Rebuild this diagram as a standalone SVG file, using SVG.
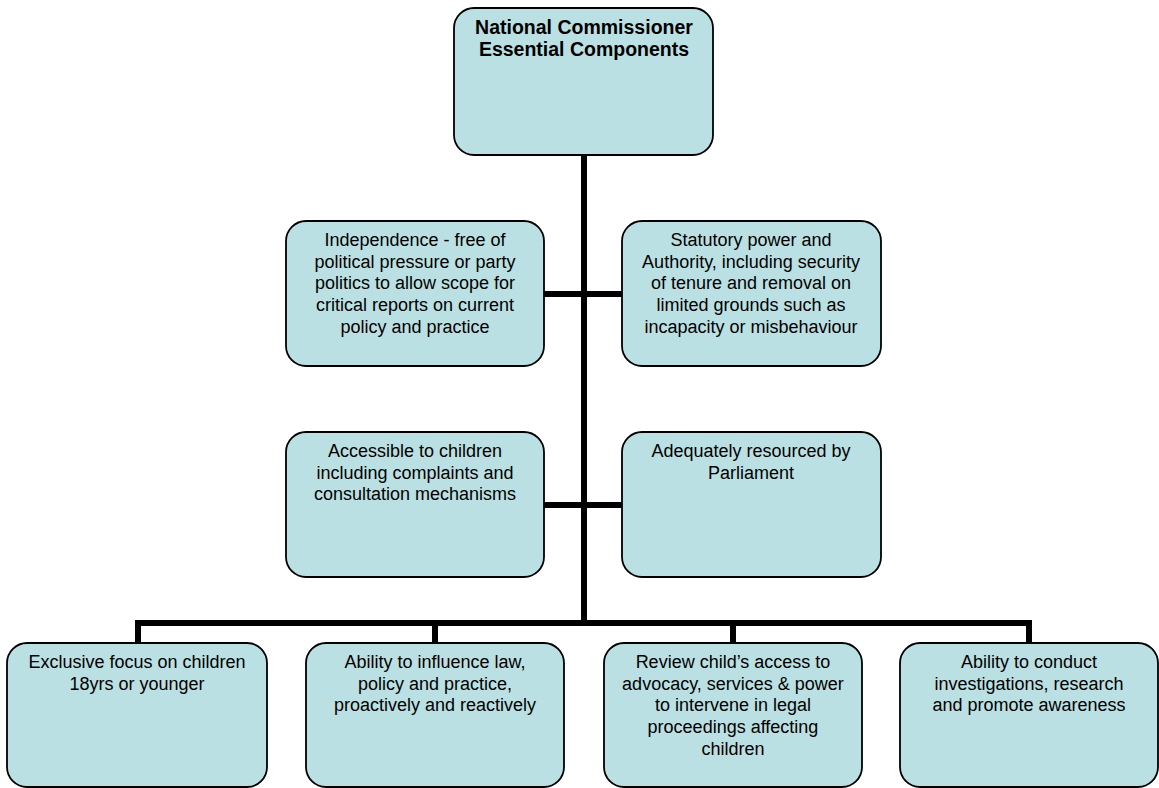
<svg xmlns="http://www.w3.org/2000/svg" width="1159" height="788" viewBox="0 0 1159 788">
<style>
.box{fill:#BBE0E3;stroke:#000;stroke-width:1.8}
.t{font-family:"Liberation Sans",Arial,sans-serif;font-size:18px;fill:#000;text-anchor:middle}
.b{font-weight:bold;font-size:19.5px}
.c{fill:none;stroke:#000;stroke-width:6;stroke-linejoin:miter}
</style>
<rect width="1159" height="788" fill="#fff"/>
<g id="connectors">
<path class="c" d="M584,155 V626"/>
<path class="c" d="M544,294 H622"/>
<path class="c" d="M544,505 H622"/>
<path class="c" d="M138,643 V623 H1029 V643"/>
<path class="c" d="M435,623 V643"/>
<path class="c" d="M733,623 V643"/>
</g>
<g id="n-top">
<rect class="box" x="454" y="8" width="259" height="147" rx="20"/>
<text class="t b" x="584" y="34">National Commissioner</text>
<text class="t b" x="584" y="56">Essential Components</text>
</g>
<g id="n-independence">
<rect class="box" x="286" y="221" width="258" height="145" rx="20"/>
<text class="t" x="415" y="246">Independence - free of</text>
<text class="t" x="415" y="268">political pressure or party</text>
<text class="t" x="415" y="289">politics to allow scope for</text>
<text class="t" x="415" y="311">critical reports on current</text>
<text class="t" x="415" y="333">policy and practice</text>
</g>
<g id="n-statutory">
<rect class="box" x="622" y="221" width="259" height="145" rx="20"/>
<text class="t" x="751" y="246">Statutory power and</text>
<text class="t" x="751" y="268">Authority, including security</text>
<text class="t" x="751" y="289">of tenure and removal on</text>
<text class="t" x="751" y="311">limited grounds such as</text>
<text class="t" x="751" y="333">incapacity or misbehaviour</text>
</g>
<g id="n-accessible">
<rect class="box" x="286" y="432" width="258" height="145" rx="20"/>
<text class="t" x="415" y="457">Accessible to children</text>
<text class="t" x="415" y="479">including complaints and</text>
<text class="t" x="415" y="500">consultation mechanisms</text>
</g>
<g id="n-resourced">
<rect class="box" x="622" y="432" width="259" height="145" rx="20"/>
<text class="t" x="751" y="457">Adequately resourced by</text>
<text class="t" x="751" y="479">Parliament</text>
</g>
<g id="n-exclusive">
<rect class="box" x="7" y="643" width="260" height="144" rx="20"/>
<text class="t" x="137" y="668">Exclusive focus on children</text>
<text class="t" x="137" y="690">18yrs or younger</text>
</g>
<g id="n-influence">
<rect class="box" x="306" y="643" width="258" height="144" rx="20"/>
<text class="t" x="435" y="668">Ability to influence law,</text>
<text class="t" x="435" y="690">policy and practice,</text>
<text class="t" x="435" y="711">proactively and reactively</text>
</g>
<g id="n-review">
<rect class="box" x="604" y="643" width="258" height="144" rx="20"/>
<text class="t" x="733" y="668">Review child’s access to</text>
<text class="t" x="733" y="690">advocacy, services &amp; power</text>
<text class="t" x="733" y="711">to intervene in legal</text>
<text class="t" x="733" y="733">proceedings affecting</text>
<text class="t" x="733" y="755">children</text>
</g>
<g id="n-investigations">
<rect class="box" x="900" y="643" width="258" height="144" rx="20"/>
<text class="t" x="1029" y="668">Ability to conduct</text>
<text class="t" x="1029" y="690">investigations, research</text>
<text class="t" x="1029" y="711">and promote awareness</text>
</g>
</svg>
